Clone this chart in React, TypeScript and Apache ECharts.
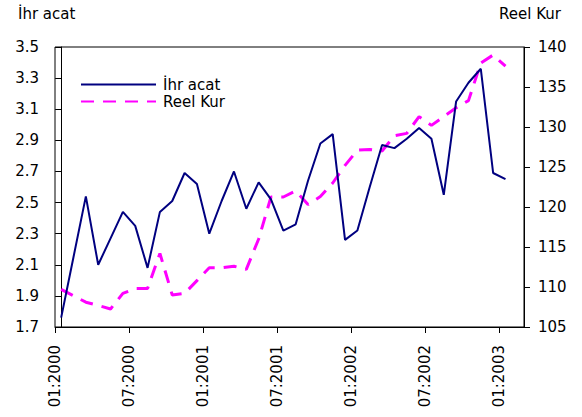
import React, { useEffect, useRef } from "react";
import * as echarts from "echarts";

const monthLabels: string[] = [
  "01:2000", "02:2000", "03:2000", "04:2000", "05:2000", "06:2000",
  "07:2000", "08:2000", "09:2000", "10:2000", "11:2000", "12:2000",
  "01:2001", "02:2001", "03:2001", "04:2001", "05:2001", "06:2001",
  "07:2001", "08:2001", "09:2001", "10:2001", "11:2001", "12:2001",
  "01:2002", "02:2002", "03:2002", "04:2002", "05:2002", "06:2002",
  "07:2002", "08:2002", "09:2002", "10:2002", "11:2002", "12:2002",
  "01:2003", "02:2003",
];

const ihracat: number[] = [
  1.76, 2.15, 2.54, 2.10, 2.27, 2.44, 2.35, 2.08, 2.44, 2.51, 2.69, 2.62,
  2.30, 2.51, 2.70, 2.46, 2.63, 2.52, 2.32, 2.36, 2.64, 2.88, 2.94, 2.26,
  2.32, 2.60, 2.87, 2.85, 2.91, 2.98, 2.91, 2.55, 3.15, 3.27, 3.36, 2.69,
  2.65,
];

const reelKur: number[] = [
  109.7, 108.9, 108.1, 107.7, 107.25, 109.2, 109.8, 109.8, 114.2, 109.0, 109.2, 110.8,
  112.4, 112.4, 112.6, 112.2, 116.0, 121.25, 121.25, 122.0, 120.3, 121.3, 123.0, 125.2,
  127.1, 127.2, 127.0, 128.9, 129.2, 131.3, 130.2, 131.3, 132.4, 133.3, 138.0, 139.0,
  137.6,
];

const seriesNames = ["İhr acat", "Reel Kur"];
const FONT = "DejaVu Sans";

export default function App() {
  const ref = useRef<HTMLDivElement>(null);
  useEffect(() => {
    if (!ref.current) return;
    const chart = echarts.init(ref.current, undefined, { renderer: "svg" });
    const txt = { fontFamily: FONT, fontSize: 15, color: "#000" };
    chart.setOption({
      animation: false,
      backgroundColor: "#fff",
      textStyle: { fontFamily: FONT },
      title: [
        { text: seriesNames[0], left: 13, top: 1, textStyle: { ...txt, fontWeight: "normal" } },
        { text: seriesNames[1], right: 16, top: 1, textStyle: { ...txt, fontWeight: "normal" } },
      ],
      legend: {
        orient: "vertical",
        left: 75,
        top: 72,
        itemWidth: 75,
        itemHeight: 14,
        itemGap: 2,
        itemStyle: { opacity: 0 },
        textStyle: { ...txt, padding: [0, 0, 0, 2] },
        data: seriesNames,
      },
      grid: {
        left: 55,
        right: 58,
        top: 47,
        bottom: 90,
        containLabel: false,
        outerBoundsMode: "none",
        show: true,
        borderColor: "#000",
        borderWidth: 1,
        backgroundColor: "transparent",
      },
      xAxis: {
        type: "value",
        min: -0.5,
        max: monthLabels.length - 0.5,
        interval: 6,
        axisLine: { show: true, lineStyle: { color: "#000", width: 1 } },
        axisTick: { show: true, inside: false, length: 6, lineStyle: { color: "#000" } },
        splitLine: { show: false },
        axisLabel: {
          ...txt,
          rotate: 90,
          margin: 18,
          showMaxLabel: false,
          formatter: (v: number) => {
            const idx = Math.round(v + 0.5);
            return idx % 6 === 0 && idx < monthLabels.length - 1 ? monthLabels[idx] : "";
          },
        },
      },
      yAxis: [
        {
          type: "value",
          min: 1.7,
          max: 3.5,
          interval: 0.2,
          position: "left",
          axisLine: { show: true, lineStyle: { color: "#000", width: 1 } },
          axisTick: { show: true, length: 6, lineStyle: { color: "#000" } },
          splitLine: { show: false },
          axisLabel: { ...txt, margin: 16, formatter: (v: number) => v.toFixed(1) },
        },
        {
          type: "value",
          min: 105,
          max: 140,
          interval: 5,
          position: "right",
          axisLine: { show: true, lineStyle: { color: "#000", width: 1 } },
          axisTick: { show: true, length: 6, lineStyle: { color: "#000" } },
          splitLine: { show: false },
          axisLabel: { ...txt, margin: 14 },
        },
      ],
      series: [
        {
          name: seriesNames[0],
          type: "line",
          yAxisIndex: 0,
          symbol: "none",
          showSymbol: false,
          color: "#000080",
          lineStyle: { color: "#000080", width: 2 },
          data: ihracat.map((v, i) => [i, v]),
          z: 3,
        },
        {
          name: seriesNames[1],
          type: "line",
          yAxisIndex: 1,
          symbol: "none",
          showSymbol: false,
          color: "#FF00FF",
          lineStyle: { color: "#FF00FF", width: 3, type: [13, 9] },
          data: reelKur.map((v, i) => [i, v]),
          z: 2,
        },
      ],
    });
    return () => chart.dispose();
  }, []);
  return <div ref={ref} style={{ width: 582, height: 417, position: "absolute", left: 0, top: 0 }} />;
}
